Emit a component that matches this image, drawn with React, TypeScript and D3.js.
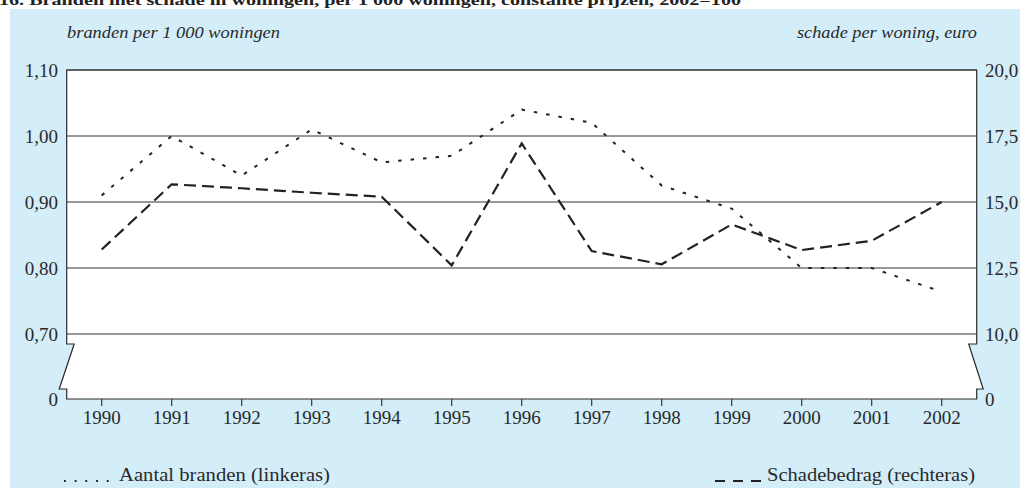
import React, { useRef, useEffect } from 'react';
import * as d3 from 'd3';

const years = ['1990', '1991', '1992', '1993', '1994', '1995', '1996', '1997', '1998', '1999', '2000', '2001', '2002'];
// branden per 1 000 woningen (linkeras)
const aantalBranden = [0.91, 1.0, 0.94, 1.01, 0.96, 0.97, 1.04, 1.02, 0.925, 0.89, 0.8, 0.8, 0.764];
// schade per woning, euro (rechteras)
const schadebedrag = [13.2, 15.67, 15.52, 15.35, 15.2, 12.6, 17.22, 13.14, 12.64, 14.15, 13.18, 13.53, 15.0];

const leftTicks = [0.7, 0.8, 0.9, 1.0, 1.1];
const rightTicks = [10, 12.5, 15, 17.5, 20];

const title = '16. Branden met schade in woningen, per 1 000 woningen, constante prijzen, 2002=100';
const leftAxisTitle = 'branden per 1 000 woningen';
const rightAxisTitle = 'schade per woning, euro';
const legendLeft = 'Aantal branden (linkeras)';
const legendRight = 'Schadebedrag (rechteras)';

const W = 1020;
const H = 488;
const FONT = "'Palatino Linotype', 'Book Antiqua', Palatino, 'Liberation Serif', serif";
const INK = '#2a2a2a';

export default function App() {
  const svgRef = useRef<SVGSVGElement>(null);

  useEffect(() => {
    if (!svgRef.current) return;
    const svg = d3.select(svgRef.current);
    svg.selectAll('*').remove();

    const m = { left: 66.7, right: 976.7, top: 70, low: 334, bottom: 399 };
    const brkTop = 344;
    const brkBot = 389;

    const x = d3.scalePoint<string>().domain(years).range([m.left, m.right]).padding(0.5);
    const yL = d3.scaleLinear().domain([0.7, 1.1]).range([m.low, m.top]);
    const yR = d3.scaleLinear().domain([10, 20]).range([m.low, m.top]);

    // title (cut at the top edge, as in the source)
    svg.append('text')
      .attr('x', -1)
      .attr('y', 4.5)
      .attr('font-family', FONT)
      .attr('font-weight', 'bold')
      .attr('font-size', 15)
      .attr('fill', '#222')
      .attr('textLength', 742)
      .attr('lengthAdjust', 'spacingAndGlyphs')
      .text(title);

    // blue panel
    svg.append('rect')
      .attr('x', 10).attr('y', 9)
      .attr('width', W - 10).attr('height', H - 9)
      .attr('fill', '#d3edf9');

    // plot frame with axis breaks
    const frame = d3.path();
    frame.moveTo(m.left, m.top);
    frame.lineTo(m.right, m.top);
    frame.lineTo(m.right, brkTop);
    frame.lineTo(m.right - 8, brkTop);
    frame.lineTo(m.right + 6.5, brkBot);
    frame.lineTo(m.right, brkBot);
    frame.lineTo(m.right, m.bottom);
    frame.lineTo(m.left, m.bottom);
    frame.lineTo(m.left, brkBot);
    frame.lineTo(m.left - 7.5, brkBot);
    frame.lineTo(m.left + 7.5, brkTop);
    frame.lineTo(m.left, brkTop);
    frame.closePath();

    svg.append('path')
      .attr('d', frame.toString())
      .attr('fill', '#fff')
      .attr('stroke', INK)
      .attr('stroke-width', 1.2);

    // gridlines
    svg.append('g')
      .selectAll('line')
      .data(leftTicks)
      .join('line')
      .attr('x1', m.left).attr('x2', m.right)
      .attr('y1', d => yL(d)).attr('y2', d => yL(d))
      .attr('stroke', '#333')
      .attr('stroke-width', 1.1);

    // x ticks
    svg.append('g')
      .selectAll('line')
      .data(years)
      .join('line')
      .attr('x1', d => x(d)!).attr('x2', d => x(d)!)
      .attr('y1', m.bottom).attr('y2', m.bottom + 7)
      .attr('stroke', INK)
      .attr('stroke-width', 1.1);

    svg.append('g')
      .selectAll('text')
      .data(years)
      .join('text')
      .attr('x', d => x(d)!)
      .attr('y', 424)
      .attr('text-anchor', 'middle')
      .attr('font-family', FONT)
      .attr('font-size', 19)
      .attr('fill', INK)
      .text(d => d);

    const fmt = (v: number, dec: number) => v.toFixed(dec).replace('.', ',');

    // left tick labels
    svg.append('g')
      .selectAll('text')
      .data(leftTicks)
      .join('text')
      .attr('x', 58)
      .attr('y', d => yL(d))
      .attr('dy', '0.35em')
      .attr('text-anchor', 'end')
      .attr('font-family', FONT)
      .attr('font-size', 19)
      .attr('fill', INK)
      .text(d => fmt(d, 2));

    svg.append('text')
      .attr('x', 58).attr('y', m.bottom).attr('dy', '0.35em')
      .attr('text-anchor', 'end')
      .attr('font-family', FONT).attr('font-size', 19).attr('fill', INK)
      .text('0');

    // right tick labels
    svg.append('g')
      .selectAll('text')
      .data(rightTicks)
      .join('text')
      .attr('x', 985)
      .attr('y', d => yR(d))
      .attr('dy', '0.35em')
      .attr('font-family', FONT)
      .attr('font-size', 19)
      .attr('fill', INK)
      .text(d => fmt(d, 1));

    svg.append('text')
      .attr('x', 985).attr('y', m.bottom).attr('dy', '0.35em')
      .attr('font-family', FONT).attr('font-size', 19).attr('fill', INK)
      .text('0');

    // axis titles
    svg.append('text')
      .attr('x', 67).attr('y', 38)
      .attr('font-family', FONT).attr('font-style', 'italic')
      .attr('font-size', 17).attr('fill', INK)
      .attr('textLength', 213)
      .attr('lengthAdjust', 'spacingAndGlyphs')
      .text(leftAxisTitle);

    svg.append('text')
      .attr('x', 797).attr('y', 38)
      .attr('font-family', FONT).attr('font-style', 'italic')
      .attr('font-size', 17).attr('fill', INK)
      .attr('textLength', 180)
      .attr('lengthAdjust', 'spacingAndGlyphs')
      .text(rightAxisTitle);

    // series
    const lineL = d3.line<number>()
      .x((_, i) => x(years[i])!)
      .y(d => yL(d));
    const lineR = d3.line<number>()
      .x((_, i) => x(years[i])!)
      .y(d => yR(d));

    svg.append('path')
      .datum(aantalBranden)
      .attr('d', lineL)
      .attr('fill', 'none')
      .attr('stroke', '#222')
      .attr('stroke-width', 2)
      .attr('stroke-dasharray', '3.5,9');

    svg.append('path')
      .datum(schadebedrag)
      .attr('d', lineR)
      .attr('fill', 'none')
      .attr('stroke', '#222')
      .attr('stroke-width', 2.2)
      .attr('stroke-dasharray', '12,6');

    // legend
    svg.append('line')
      .attr('x1', 64).attr('x2', 112)
      .attr('y1', 481).attr('y2', 481)
      .attr('stroke', '#222')
      .attr('stroke-width', 1.8)
      .attr('stroke-dasharray', '1.8,8.9');

    svg.append('text')
      .attr('x', 119).attr('y', 481)
      .attr('font-family', FONT).attr('font-size', 19).attr('fill', INK)
      .attr('textLength', 211)
      .attr('lengthAdjust', 'spacingAndGlyphs')
      .text(legendLeft);

    svg.append('line')
      .attr('x1', 715).attr('x2', 761)
      .attr('y1', 481).attr('y2', 481)
      .attr('stroke', '#222')
      .attr('stroke-width', 2.2)
      .attr('stroke-dasharray', '10,8');

    svg.append('text')
      .attr('x', 767).attr('y', 481)
      .attr('font-family', FONT).attr('font-size', 19).attr('fill', INK)
      .attr('textLength', 208)
      .attr('lengthAdjust', 'spacingAndGlyphs')
      .text(legendRight);
  }, []);

  return (
    <div style={{ position: 'absolute', left: 0, top: 0 }}>
      <svg ref={svgRef} width={W} height={H} style={{ display: 'block' }} />
    </div>
  );
}
